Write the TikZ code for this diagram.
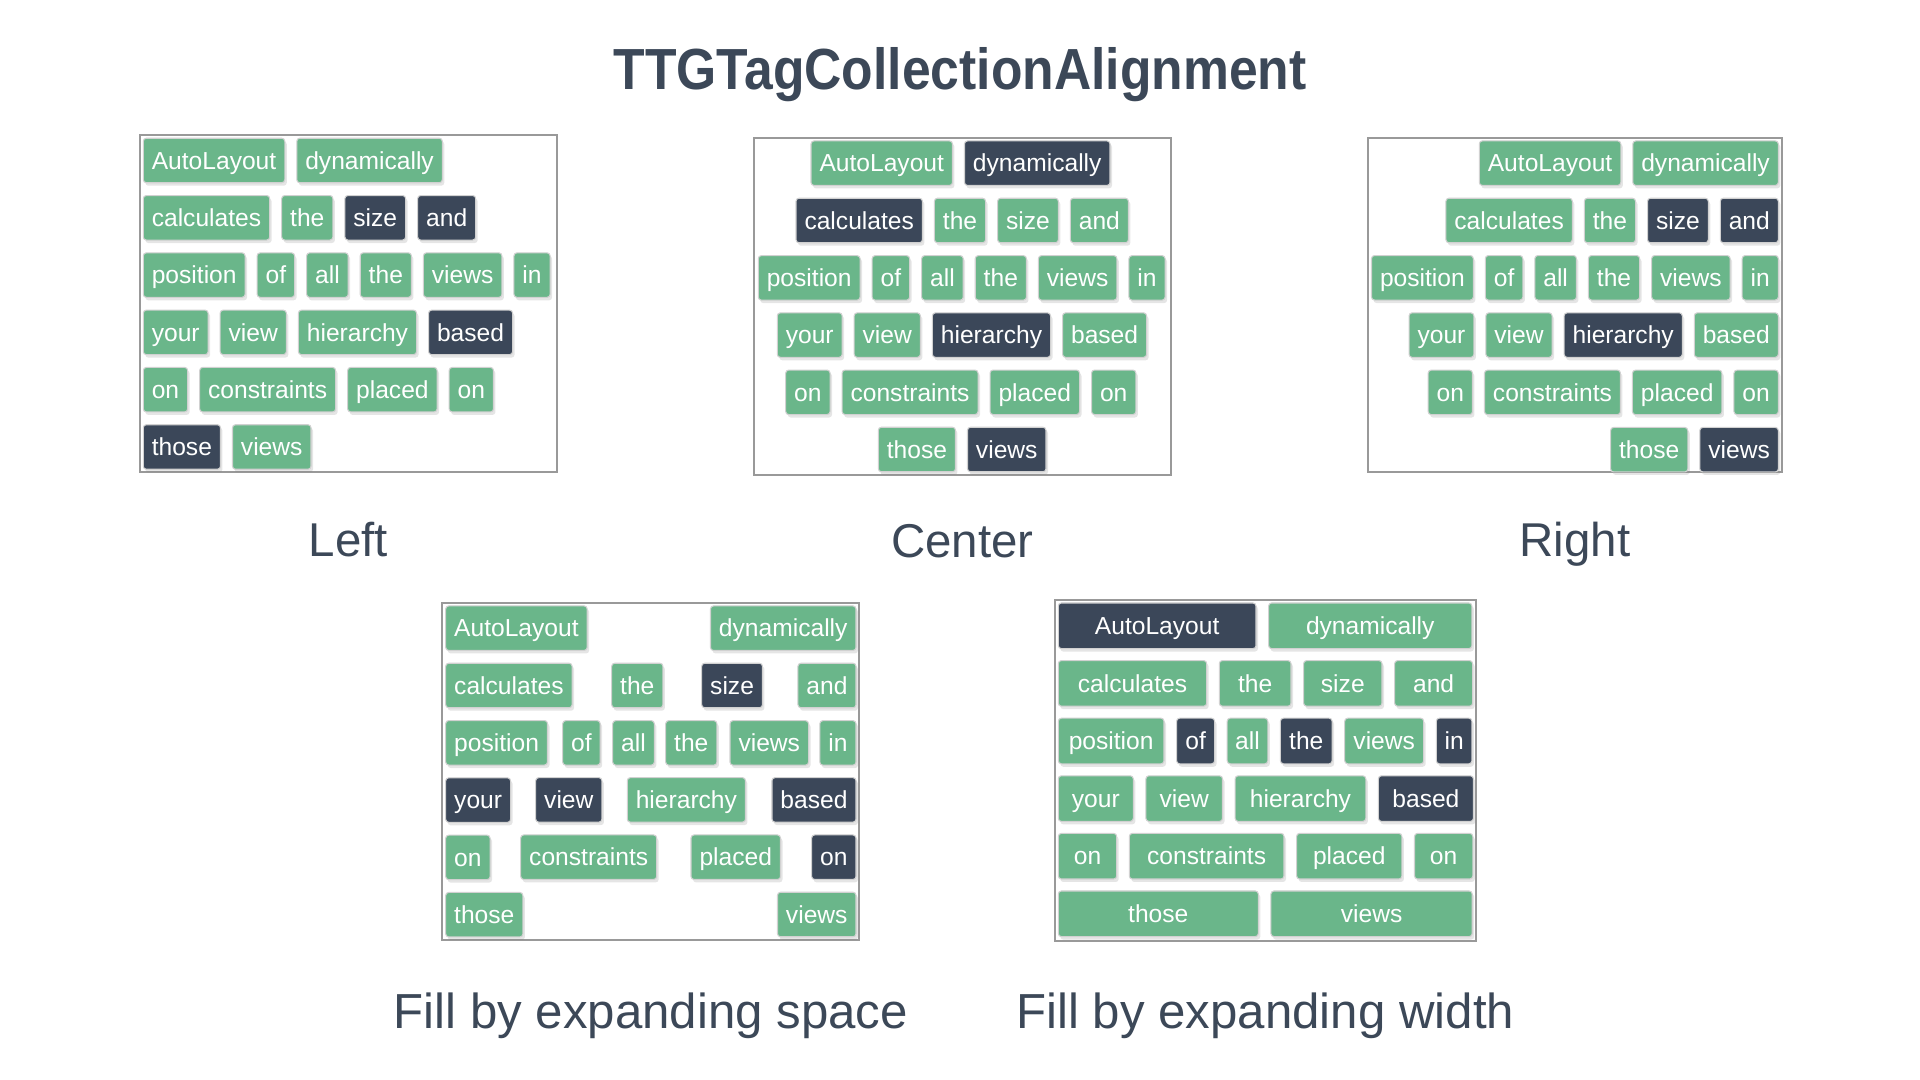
\documentclass[tikz,border=0pt]{standalone}
\usepackage{fontspec}
\setmainfont{Liberation Sans}
\newfontfamily\headfont{Liberation Sans}[FakeStretch=0.89]
\usetikzlibrary{positioning,shadows}
\definecolor{leaf}{RGB}{106,182,138}
\definecolor{slate}{RGB}{59,71,89}
\definecolor{ink}{RGB}{60,72,88}
\tikzset{
  tag/.style={
    fill=leaf,
    draw=white!82!black,
    line width=0.3pt,
    rounded corners=0.3mm,
    text=white,
    font=\fontsize{7}{8}\selectfont,
    inner xsep=0.85mm,
    inner ysep=0pt,
    outer sep=0pt,
    text height=5pt,
    text depth=0pt,
    minimum height=4.45mm,
    drop shadow={shadow xshift=0.2mm, shadow yshift=-0.3mm, opacity=0.2}
  },
  darktag/.style={tag, fill=slate},
  frame/.style={draw=black!40, line width=0.5pt, inner sep=0pt},
  caption/.style={text=ink, font=\fontsize{13.5}{16}\selectfont, anchor=base}
}

\begin{document}
\begin{tikzpicture}[node distance=1.28mm and 1.2mm]
  \fill[white] (0,0) rectangle (19.2,10.8);
  \node[text=ink, font=\headfont\bfseries\fontsize{16.5}{20}\selectfont, anchor=base] (title) at (9.6,9.906) {TTGTagCollectionAlignment};

  % Left
  \node[frame, minimum width=4.17cm, minimum height=3.37cm] (boxl) at (3.485,7.765) {};
  \node[tag, anchor=west] (l11) at (1.433,9.195) {AutoLayout};
  \node[tag, right=of l11] (l12) {dynamically};
  \node[tag, below=of l11.south west, anchor=north west] (l21) {calculates};
  \node[tag, right=of l21] (l22) {the};
  \node[darktag, right=of l22] (l23) {size};
  \node[darktag, right=of l23] (l24) {and};
  \node[tag, below=of l21.south west, anchor=north west] (l31) {position};
  \node[tag, right=of l31] (l32) {of};
  \node[tag, right=of l32] (l33) {all};
  \node[tag, right=of l33] (l34) {the};
  \node[tag, right=of l34] (l35) {views};
  \node[tag, right=of l35] (l36) {in};
  \node[tag, below=of l31.south west, anchor=north west] (l41) {your};
  \node[tag, right=of l41] (l42) {view};
  \node[tag, right=of l42] (l43) {hierarchy};
  \node[darktag, right=of l43] (l44) {based};
  \node[tag, below=of l41.south west, anchor=north west] (l51) {on};
  \node[tag, right=of l51] (l52) {constraints};
  \node[tag, right=of l52] (l53) {placed};
  \node[tag, right=of l53] (l54) {on};
  \node[darktag, below=of l51.south west, anchor=north west] (l61) {those};
  \node[tag, right=of l61] (l62) {views};
  \node[caption] (capl) at (3.485,5.233) {Left};

  % Center
  \node[frame, minimum width=4.164cm, minimum height=3.373cm] (boxc) at (9.625,7.7365) {};
  \node[tag, anchor=west] (c11) at (8.11,9.168) {AutoLayout};
  \node[darktag, right=of c11] (c12) {dynamically};
  \node[darktag, anchor=west] (c21) at (7.96,8.595) {calculates};
  \node[tag, right=of c21] (c22) {the};
  \node[tag, right=of c22] (c23) {size};
  \node[tag, right=of c23] (c24) {and};
  \node[tag, anchor=west] (c31) at (7.583,8.021) {position};
  \node[tag, right=of c31] (c32) {of};
  \node[tag, right=of c32] (c33) {all};
  \node[tag, right=of c33] (c34) {the};
  \node[tag, right=of c34] (c35) {views};
  \node[tag, right=of c35] (c36) {in};
  \node[tag, anchor=west] (c41) at (7.773,7.449) {your};
  \node[tag, right=of c41] (c42) {view};
  \node[darktag, right=of c42] (c43) {hierarchy};
  \node[tag, right=of c43] (c44) {based};
  \node[tag, anchor=west] (c51) at (7.857,6.877) {on};
  \node[tag, right=of c51] (c52) {constraints};
  \node[tag, right=of c52] (c53) {placed};
  \node[tag, right=of c53] (c54) {on};
  \node[tag, anchor=west] (c61) at (8.783,6.305) {those};
  \node[darktag, right=of c61] (c62) {views};
  \node[caption] (capc) at (9.625,5.228) {Center};

  % Right
  \node[frame, minimum width=4.134cm, minimum height=3.34cm] (boxr) at (15.75,7.753) {};
  \node[tag, anchor=east] (r12) at (17.783,9.168) {dynamically};
  \node[tag, left=of r12] (r11) {AutoLayout};
  \node[darktag, below=of r12.south east, anchor=north east] (r24) {and};
  \node[darktag, left=of r24] (r23) {size};
  \node[tag, left=of r23] (r22) {the};
  \node[tag, left=of r22] (r21) {calculates};
  \node[tag, below=of r24.south east, anchor=north east] (r36) {in};
  \node[tag, left=of r36] (r35) {views};
  \node[tag, left=of r35] (r34) {the};
  \node[tag, left=of r34] (r33) {all};
  \node[tag, left=of r33] (r32) {of};
  \node[tag, left=of r32] (r31) {position};
  \node[tag, below=of r36.south east, anchor=north east] (r44) {based};
  \node[darktag, left=of r44] (r43) {hierarchy};
  \node[tag, left=of r43] (r42) {view};
  \node[tag, left=of r42] (r41) {your};
  \node[tag, below=of r44.south east, anchor=north east] (r54) {on};
  \node[tag, left=of r54] (r53) {placed};
  \node[tag, left=of r53] (r52) {constraints};
  \node[tag, left=of r52] (r51) {on};
  \node[darktag, below=of r54.south east, anchor=north east] (r62) {views};
  \node[tag, left=of r62] (r61) {those};
  \node[caption] (capr) at (15.75,5.233) {Right};

  % Fill by expanding space
  \node[frame, minimum width=4.17cm, minimum height=3.373cm] (boxs) at (6.508,3.0865) {};
  \node[tag, anchor=west] (s11) at (4.457,4.518) {AutoLayout};
  \node[tag, anchor=east] (s12) at (8.56,4.518) {dynamically};
  \node[tag, below=of s11.south west, anchor=north west] (s21) {calculates};
  \node[tag, anchor=west] (s22) at (6.117,3.945) {the};
  \node[darktag, anchor=west] (s23) at (7.017,3.945) {size};
  \node[tag, anchor=east] (s24) at (8.56,3.945) {and};
  \node[tag, below=of s21.south west, anchor=north west] (s31) {position};
  \node[tag, anchor=west] (s32) at (5.627,3.371) {of};
  \node[tag, anchor=west] (s33) at (6.127,3.371) {all};
  \node[tag, anchor=west] (s34) at (6.657,3.371) {the};
  \node[tag, anchor=west] (s35) at (7.3,3.371) {views};
  \node[tag, anchor=east] (s36) at (8.56,3.371) {in};
  \node[darktag, below=of s31.south west, anchor=north west] (s41) {your};
  \node[darktag, anchor=west] (s42) at (5.357,2.801) {view};
  \node[tag, anchor=west] (s43) at (6.273,2.801) {hierarchy};
  \node[darktag, anchor=east] (s44) at (8.56,2.801) {based};
  \node[tag, below=of s41.south west, anchor=north west] (s51) {on};
  \node[tag, anchor=west] (s52) at (5.207,2.228) {constraints};
  \node[tag, anchor=west] (s53) at (6.91,2.228) {placed};
  \node[darktag, anchor=east] (s54) at (8.56,2.228) {on};
  \node[tag, below=of s51.south west, anchor=north west] (s61) {those};
  \node[tag, anchor=east] (s62) at (8.56,1.655) {views};
  \node[caption, font=\fontsize{14}{17}\selectfont] (caps) at (6.508,0.516) {Fill by expanding space};

  % Fill by expanding width
  \node[frame, minimum width=4.207cm, minimum height=3.407cm] (boxw) at (12.6535,3.0965) {};
  \begin{scope}[tag/.append style={minimum height=4.56mm, inner xsep=0.4mm}, node distance=1.2mm and 1.26mm]
    \node[darktag, anchor=west, minimum width=1.977cm] (w11) at (10.583,4.542) {AutoLayout};
    \node[tag, right=of w11, minimum width=2.033cm] (w12) {dynamically};
    \node[tag, below=of w11.south west, anchor=north west, minimum width=1.484cm] (w21) {calculates};
    \node[tag, right=of w21, minimum width=0.717cm] (w22) {the};
    \node[tag, right=of w22, minimum width=0.784cm] (w23) {size};
    \node[tag, right=of w23, minimum width=0.78cm] (w24) {and};
    \node[tag, below=of w21.south west, anchor=north west, minimum width=1.057cm] (w31) {position};
    \node[darktag, right=of w31, minimum width=0.38cm] (w32) {of};
    \node[tag, right=of w32, minimum width=0.406cm] (w33) {all};
    \node[darktag, right=of w33, minimum width=0.517cm] (w34) {the};
    \node[tag, right=of w34, minimum width=0.79cm] (w35) {views};
    \node[darktag, right=of w35, minimum width=0.356cm] (w36) {in};
    \node[tag, below=of w31.south west, anchor=north west, minimum width=0.75cm] (w41) {your};
    \node[tag, right=of w41, minimum width=0.766cm] (w42) {view};
    \node[tag, right=of w42, minimum width=1.307cm] (w43) {hierarchy};
    \node[darktag, right=of w43, minimum width=0.95cm] (w44) {based};
    \node[tag, below=of w41.south west, anchor=north west, minimum width=0.584cm] (w51) {on};
    \node[tag, right=of w51, minimum width=1.547cm] (w52) {constraints};
    \node[tag, right=of w52, minimum width=1.053cm] (w53) {placed};
    \node[tag, right=of w53, minimum width=0.583cm] (w54) {on};
    \node[tag, below=of w51.south west, anchor=north west, minimum width=2cm] (w61) {those};
    \node[tag, right=of w61, minimum width=2.013cm] (w62) {views};
  \end{scope}
  \node[caption, font=\fontsize{14}{17}\selectfont] (capw) at (12.653,0.516) {Fill by expanding width};
\end{tikzpicture}
\end{document}
